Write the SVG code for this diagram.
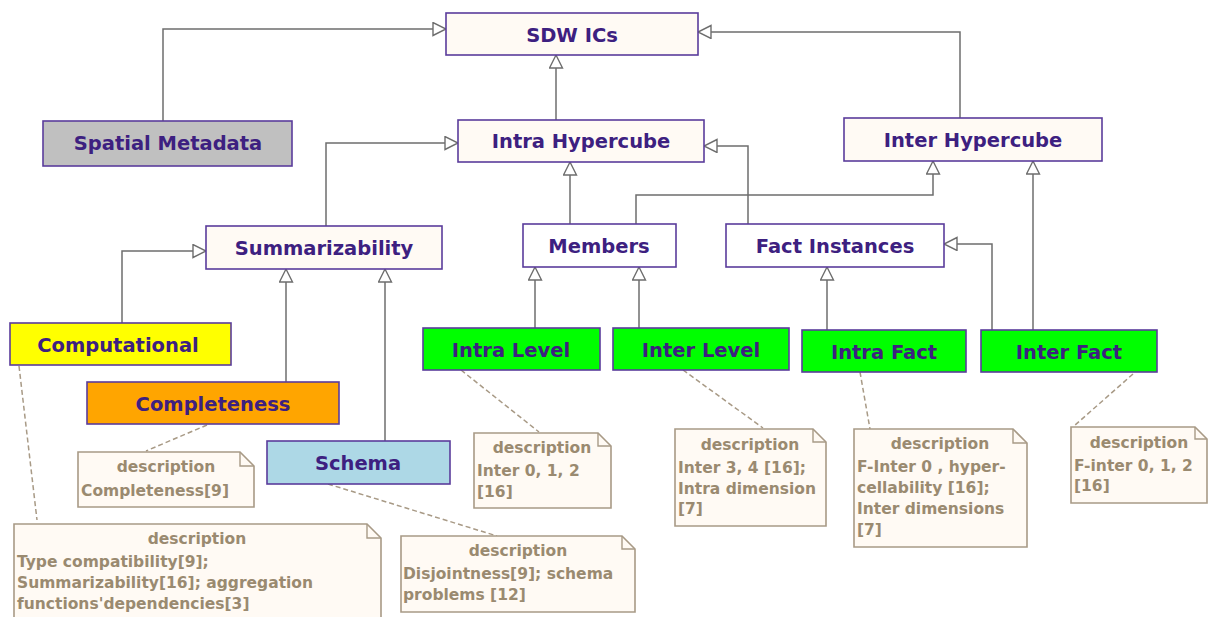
<svg xmlns="http://www.w3.org/2000/svg" width="1208" height="617" viewBox="0 0 1208 617">
<defs>
<marker id="tri" markerUnits="userSpaceOnUse" markerWidth="16" markerHeight="16" refX="14" refY="7" orient="auto" viewBox="0 0 16 16">
<path d="M1,0.5 L14,7 L1,13.5 Z" fill="#ffffff" stroke="#6e6e6e" stroke-width="1.4"/>
</marker>
<style>
.n{stroke:#5a3c9c;stroke-width:1.6}
.nt{font-family:"DejaVu Sans",Verdana,sans-serif;font-weight:bold;font-size:19.5px;fill:#3d2080;text-anchor:middle}
.c{fill:none;stroke:#6e6e6e;stroke-width:1.5;marker-end:url(#tri)}
.d{fill:none;stroke:#a89a86;stroke-width:1.5;stroke-dasharray:5,3}
.note{fill:#fffaf4;stroke:#a89a86;stroke-width:1.6}
.fold{fill:none;stroke:#a89a86;stroke-width:1.4}
.dt{font-family:"DejaVu Sans",Verdana,sans-serif;font-weight:bold;font-size:15.5px;fill:#9a8a70}
.h{text-anchor:middle}
</style>
</defs>
<rect width="1208" height="617" fill="#ffffff"/>

<g id="connectors">
<path class="c" d="M163,121 V29 H446"/>
<path class="c" d="M556,120 V55"/>
<path class="c" d="M960,118 V32 H698"/>
<path class="c" d="M326,226 V143 H458"/>
<path class="c" d="M570,224 V162"/>
<path class="c" d="M636,224 V195 H933 V161"/>
<path class="c" d="M748,224 V146 H704"/>
<path class="c" d="M1033,330 V161"/>
<path class="c" d="M992,330 V244 H944"/>
<path class="c" d="M122,323 V251 H206"/>
<path class="c" d="M286,382 V269"/>
<path class="c" d="M385,441 V269"/>
<path class="c" d="M535,328 V267"/>
<path class="c" d="M639,328 V267"/>
<path class="c" d="M827,330 V267"/>
<path class="d" d="M19,366 L37,520"/>
<path class="d" d="M207,425 L146,451"/>
<path class="d" d="M328,484 L497,536"/>
<path class="d" d="M461,370 L539,432"/>
<path class="d" d="M683,370 L763,428"/>
<path class="d" d="M860,372 L870,429"/>
<path class="d" d="M1133,374 L1074,426"/>
</g>

<g id="sdw-ics"><rect class="n" x="446" y="13" width="252" height="42" fill="#fffaf4"/><text class="nt" x="572" y="42">SDW ICs</text></g>
<g id="spatial-metadata"><rect class="n" x="43" y="121" width="249" height="45" fill="#c0c0c0"/><text class="nt" x="168" y="150">Spatial Metadata</text></g>
<g id="intra-hypercube"><rect class="n" x="458" y="120" width="246" height="42" fill="#fffaf4"/><text class="nt" x="581" y="148">Intra Hypercube</text></g>
<g id="inter-hypercube"><rect class="n" x="844" y="118" width="258" height="43" fill="#fffaf4"/><text class="nt" x="973" y="147">Inter Hypercube</text></g>
<g id="summarizability"><rect class="n" x="206" y="226" width="236" height="43" fill="#fffaf4"/><text class="nt" x="324" y="255">Summarizability</text></g>
<g id="members"><rect class="n" x="523" y="224" width="153" height="43" fill="#ffffff"/><text class="nt" x="599" y="253">Members</text></g>
<g id="fact-instances"><rect class="n" x="726" y="224" width="218" height="43" fill="#ffffff"/><text class="nt" x="835" y="253">Fact Instances</text></g>
<g id="computational"><rect class="n" x="10" y="323" width="221" height="42" fill="#ffff00"/><text class="nt" x="118" y="352">Computational</text></g>
<g id="completeness"><rect class="n" x="87" y="382" width="252" height="42" fill="#ffa500"/><text class="nt" x="213" y="411">Completeness</text></g>
<g id="schema"><rect class="n" x="267" y="441" width="183" height="43" fill="#add8e6"/><text class="nt" x="358" y="470">Schema</text></g>
<g id="intra-level"><rect class="n" x="423" y="328" width="177" height="42" fill="#00ff00"/><text class="nt" x="511" y="357">Intra Level</text></g>
<g id="inter-level"><rect class="n" x="613" y="328" width="176" height="42" fill="#00ff00"/><text class="nt" x="701" y="357">Inter Level</text></g>
<g id="intra-fact"><rect class="n" x="802" y="330" width="164" height="42" fill="#00ff00"/><text class="nt" x="884" y="359">Intra Fact</text></g>
<g id="inter-fact"><rect class="n" x="981" y="330" width="176" height="42" fill="#00ff00"/><text class="nt" x="1069" y="359">Inter Fact</text></g>

<g id="note-completeness">
<path class="note" d="M78,452 H240 L254,466 V507 H78 Z"/><path class="fold" d="M240,452 V466 H254"/>
<text class="dt h" x="166" y="472">description</text>
<text class="dt" x="81" y="496">Completeness[9]</text>
</g>
<g id="note-computational">
<path class="note" d="M14,524 H367 L381,538 V630 H14 Z"/><path class="fold" d="M367,524 V538 H381"/>
<text class="dt h" x="197" y="544">description</text>
<text class="dt" x="17" y="567">Type compatibility[9];</text>
<text class="dt" x="17" y="588">Summarizability[16]; aggregation</text>
<text class="dt" x="17" y="609">functions'dependencies[3]</text>
</g>
<g id="note-schema">
<path class="note" d="M401,536 H622 L635,549 V612 H401 Z"/><path class="fold" d="M622,536 V549 H635"/>
<text class="dt h" x="518" y="556">description</text>
<text class="dt" x="403" y="579">Disjointness[9]; schema</text>
<text class="dt" x="403" y="600">problems [12]</text>
</g>
<g id="note-intra-level">
<path class="note" d="M474,433 H598 L611,446 V508 H474 Z"/><path class="fold" d="M598,433 V446 H611"/>
<text class="dt h" x="542" y="453">description</text>
<text class="dt" x="477" y="476">Inter 0, 1, 2</text>
<text class="dt" x="477" y="497">[16]</text>
</g>
<g id="note-inter-level">
<path class="note" d="M675,429 H813 L826,442 V526 H675 Z"/><path class="fold" d="M813,429 V442 H826"/>
<text class="dt h" x="750" y="450">description</text>
<text class="dt" x="678" y="473">Inter 3, 4 [16];</text>
<text class="dt" x="678" y="494">Intra dimension</text>
<text class="dt" x="678" y="514">[7]</text>
</g>
<g id="note-intra-fact">
<path class="note" d="M854,429 H1013 L1027,443 V547 H854 Z"/><path class="fold" d="M1013,429 V443 H1027"/>
<text class="dt h" x="940" y="449">description</text>
<text class="dt" x="857" y="472">F-Inter 0 , hyper-</text>
<text class="dt" x="857" y="493">cellability [16];</text>
<text class="dt" x="857" y="514">Inter dimensions</text>
<text class="dt" x="857" y="535">[7]</text>
</g>
<g id="note-inter-fact">
<path class="note" d="M1071,427 H1195 L1207,439 V503 H1071 Z"/><path class="fold" d="M1195,427 V439 H1207"/>
<text class="dt h" x="1139" y="448">description</text>
<text class="dt" x="1074" y="471">F-inter 0, 1, 2</text>
<text class="dt" x="1074" y="491">[16]</text>
</g>
</svg>
